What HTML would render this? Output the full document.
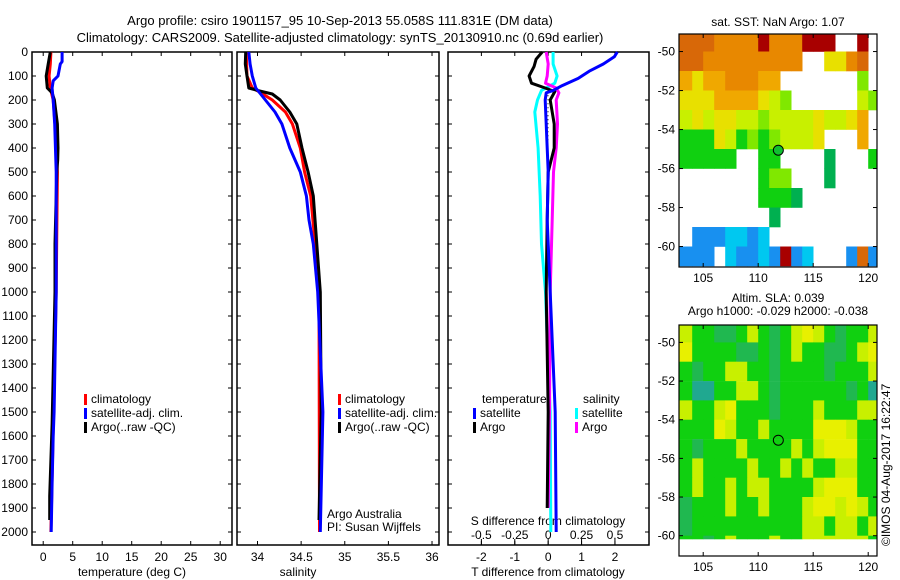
<!DOCTYPE html>
<html><head><meta charset="utf-8"><style>
html,body{margin:0;padding:0;background:#fff;}
svg{display:block;font-family:"Liberation Sans",sans-serif;}
text{font-size:12px;fill:#000;}
</style></head><body>
<svg id="chart" width="900" height="580" viewBox="0 0 900 580" xmlns="http://www.w3.org/2000/svg">
<text x="340" y="25" text-anchor="middle" style="font-size:13px">Argo profile: csiro 1901157_95 10-Sep-2013 55.058S 111.831E (DM data)</text>
<text x="340" y="42" text-anchor="middle" style="font-size:13px">Climatology: CARS2009. Satellite-adjusted climatology: synTS_20130910.nc (0.69d earlier)</text>
<g id="g"></g>
</svg>
<script>
// ---------- data ----------
const depthTicks=[0,100,200,300,400,500,600,700,800,900,1000,1100,1200,1300,1400,1500,1600,1700,1800,1900,2000];
const tempTicks=[0,5,10,15,20,25,30];
const salTicks=[34,34.5,35,35.5,36];
const tdiffTicks=[-2,-1,0,1,2];
const sdiffTicks=[-0.5,-0.25,0,0.25,0.5];
const sdiffLabels=["-0.5","-0.25","0","0.25","0.5"];
const tClimDepth=[0,50,100,150,200,300,500,1000,2000];
const tClimVal=[1.3,1.2,1.0,1.2,1.7,2.0,2.4,2.2,1.3];
const tSatDepth=[0,40,50,100,120,150,200,300,500,1000,1500,1600,1800,2000];
const tSatVal=[3.2,3.2,2.9,2.5,1.7,1.5,1.7,1.95,2.2,2.2,1.85,1.7,1.5,1.35];
const tArgoDepth=[0,50,100,150,170,200,300,400,450,500,800,1000,1550,1850,1950];
const tArgoVal=[1.2,0.85,0.5,0.7,1.5,1.9,2.4,2.5,2.45,2.3,2.0,2.0,1.5,1.1,1.1];
const sClimDepth=[0,100,150,170,200,250,300,400,500,600,800,1000,2000];
const sClimVal=[33.87,33.88,33.94,34.04,34.17,34.32,34.40,34.49,34.54,34.61,34.66,34.705,34.71];
const sSatDepth=[0,50,100,150,200,250,300,400,500,600,700,800,1000,1500,2000];
const sSatVal=[33.9,33.915,33.94,33.98,34.09,34.2,34.28,34.37,34.49,34.56,34.59,34.64,34.69,34.75,34.72];
const sArgoDepth=[0,50,100,150,160,175,200,250,300,400,500,600,800,1000,1500,1950];
const sArgoVal=[33.865,33.86,33.88,33.9,34.0,34.17,34.26,34.37,34.45,34.51,34.58,34.64,34.68,34.72,34.73,34.705];
const dtSatDepth=[0,20,50,80,110,140,160,170,200,300,400,500,700,900,1100,1500,2000];
const dtSatVal=[2.07,1.98,1.65,1.23,0.9,0.42,0.15,-0.06,-0.09,-0.06,-0.03,0,-0.03,0.03,0.09,0.21,0.24];
const dtArgoDepth=[0,30,60,100,130,150,165,200,300,400,450,500,700,900,1000,1500,1900];
const dtArgoVal=[-0.18,-0.36,-0.42,-0.57,-0.5,-0.09,0.2,0.06,0.18,0.18,0.09,0,-0.03,-0.05,-0.06,0,-0.03];
const dsSatDepth=[0,50,100,130,160,200,250,400,600,800,1000,1200,1500,2000];
const dsSatVal=[0.037,0.037,0.067,0.05,-0.05,-0.08,-0.1,-0.075,-0.06,-0.05,-0.02,-0.007,0.015,0.02];
const dsArgoDepth=[0,50,100,130,150,170,200,300,400,500,700,1000,1500,1900];
const dsArgoVal=[-0.015,0,-0.007,-0.02,0.06,0.08,0.06,0.07,0.06,0.04,0.03,0.015,0.01,0];
const lonTicks=[105,110,115,120];
const latTicks=[-50,-52,-54,-56,-58,-60];
const sstRows=[
"OOOooooRoooRRR..R.",
"OOooooooooo..YYoO.",
"aYaaoooaa.......g.",
"YYYaaaaYyg......yg",
"yYyYYyygyyyyYyyYa.",
"GGGYyGgGgyyyY...a.",
"GGGGG..GG....D...G",
".......Ggg...D....",
".......GGGD.......",
"........D.........",
".bbbccbc..........",
"bbb.cbbcbRbc...bOb"];
const slaRows=[
"yGGDDGyGDGyYyGDGGy",
"YGGGGDDGDGyGGDDGyY",
"GDGGyyGGDGGGGDGGGy",
"GTTGGyyGDGGGGGGDGT",
"yGGyYGGGDGGGyGGGyy",
"GGGYyGGyGGGGYYYyGG",
"GDGGGyGGGGyGyYYYGG",
"GyGGGGyGGyGyGGyyGG",
"GyGGyGyyGGGGyYYYGG",
"DGGGyGGyGGGyYYyYyG",
"DGGGGGGGGGGyyGyyGy",
"GGDGyGGGyGGyyyyyyG"];
const argoLon=111.83, argoLat=-55.06;
const sstTitle="sat. SST: NaN Argo: 1.07";
// ---------- drawing ----------
const NS="http://www.w3.org/2000/svg";
const G=document.getElementById('g');
function el(tag,attrs,parent){const e=document.createElementNS(NS,tag);for(const k in attrs)e.setAttribute(k,attrs[k]);(parent||G).appendChild(e);return e;}
function txt(s,x,y,anchor,parent,extra){const t=el('text',Object.assign({x:x,y:y,'text-anchor':anchor||'start'},extra||{}),parent);t.textContent=s;return t;}
const pTop=52, pxPer100=24;
const yD=d=>pTop+d*pxPer100/100;
const bottom=545;
const panels=[
 {l:32,r:232,x0:-1.9,x1:32},
 {l:237,r:439,x0:33.765,x1:36.08},
 {l:448,r:649,x0:-3.0,x1:3.02}];
function sx(p,v){return p.l+(v-p.x0)/(p.x1-p.x0)*(p.r-p.l);}
panels.forEach((p,i)=>{
  const f=el('rect',{x:p.l,y:pTop,width:p.r-p.l,height:bottom-pTop,fill:'none',stroke:'#000','stroke-width':1.5});
  
  
  depthTicks.forEach(d=>{
    el('line',{x1:p.l,x2:p.l+4,y1:yD(d),y2:yD(d),stroke:'#000'});
    el('line',{x1:p.r-4,x2:p.r,y1:yD(d),y2:yD(d),stroke:'#000'});
  });
});
depthTicks.forEach(d=>{const t=txt(String(d),28,yD(d)+4,'end');
  
  });
function xTicks(p,ticks,labels,y){ticks.forEach((v,i)=>{const x=sx(p,v);
  el('line',{x1:x,x2:x,y1:bottom,y2:bottom-4,stroke:'#000'});
  el('line',{x1:x,x2:x,y1:pTop,y2:pTop+4,stroke:'#000'});
  const t=txt(labels?labels[i]:String(v),x,y,'middle');
  
  });}
xTicks(panels[0],tempTicks,null,561);
xTicks(panels[1],salTicks,null,561);
xTicks(panels[2],tdiffTicks,null,561);
const pS={l:panels[2].l,r:panels[2].r,x0:panels[2].x0/4,x1:panels[2].x1/4};
sdiffTicks.forEach((v,i)=>{const x=sx(pS,v);
  el('line',{x1:x,x2:x,y1:539,y2:545,stroke:'#000'});
  const t=txt(sdiffLabels[i],x,539,'middle');
  
  });
[['temperature (deg C)',132,'x-axis-title-temperature'],['salinity',298,'x-axis-title-salinity'],['T difference from climatology',548,'x-axis-title-tdiff']].forEach(a=>{
  const t=txt(a[0],a[1],576,'middle');});
{const t=txt('S difference from climatology',548,525,'middle');}
function line(p,ds,vs,color,name,w){
  const pts=ds.map((d,i)=>sx(p,vs[i]).toFixed(1)+','+yD(d).toFixed(1)).join(' ');
  const e=el('polyline',{points:pts,fill:'none',stroke:color,'stroke-width':w||3,'stroke-linejoin':'round'});
  
  
}
line(panels[0],tClimDepth,tClimVal,'#f00','temp-climatology-line');
line(panels[0],tArgoDepth,tArgoVal,'#000','temp-argo-line');
line(panels[0],tSatDepth,tSatVal,'#00f','temp-satellite-line');
line(panels[1],sClimDepth,sClimVal,'#f00','salinity-climatology-line');
line(panels[1],sArgoDepth,sArgoVal,'#000','salinity-argo-line');
line(panels[1],sSatDepth,sSatVal,'#00f','salinity-satellite-line');
el('line',{x1:548,x2:548,y1:yD(180),y2:yD(700),stroke:'#000','stroke-dasharray':'1,3'});
line(pS,dsSatDepth,dsSatVal,'#0ff','sdiff-satellite-line');
line(pS,dsArgoDepth,dsArgoVal,'#f0f','sdiff-argo-line');
line(panels[2],dtArgoDepth,dtArgoVal,'#000','tdiff-argo-line');
line(panels[2],dtSatDepth,dtSatVal,'#00f','tdiff-satellite-line');
function leg(x,y,color,label,name){
  el('rect',{x:x,y:y-9,width:3,height:11,fill:color});
  const t=txt(label,x+7,y);}
[[84,'climatology','#f00'],[84,'satellite-adj. clim.','#00f'],[84,'Argo(..raw -QC)','#000']].forEach((a,i)=>{
  leg(a[0],403+i*14,a[2],a[1],'temp-legend-entry');leg(338,403+i*14,a[2],a[1],'salinity-legend-entry');});
{const t=txt('temperature',482,403);
 const u=txt('salinity',583,403);}
leg(473,417,'#00f','satellite','legend-t-satellite');leg(473,431,'#000','Argo','legend-t-argo');
leg(575,417,'#0ff','satellite','legend-s-satellite');leg(575,431,'#f0f','Argo','legend-s-argo');
{const t=txt('Argo Australia',327,518);
 const u=txt('PI: Susan Wijffels',327,531);}
const sstColors={R:'#a80000',O:'#d86808',o:'#e88800',a:'#f0a800',Y:'#e8e000',y:'#c8f000',g:'#80e800',G:'#10d010',D:'#00b050',b:'#1890f0',c:'#00c8f0'};
const slaColors={y:'#c8f000',Y:'#e8f000',G:'#10d010',D:'#20b850',T:'#20a890'};
function drawMap(mt,mb,rows,colors,name,dataBottom){
  const ml=679,mr=877,lon0=102.8,lon1=120.8,lat0=-49.1,lat1=-61.05;
  const mx=v=>ml+(v-lon0)/(lon1-lon0)*(mr-ml);
  const my=v=>mt+(v-lat0)/(lat1-lat0)*(mb-mt);
  const db=dataBottom||mb;
  const g=el('g',{});
  
  
  rows.forEach((row,r)=>{for(let c=0;c<row.length;c++){const ch=row[c];if(!colors[ch])continue;
    const la=-49-r, lo=103+c;
    const y1=r===0?mt:my(la), y2=Math.min(my(la-1),db);
    if(y2<=y1)continue;
    const xa=c===0?ml:mx(lo);
    const x2=Math.min(mx(lo+1),mr);
    const cell=el('rect',{x:xa.toFixed(1),y:y1.toFixed(1),width:(x2-xa+0.3).toFixed(1),height:(y2-y1+0.3).toFixed(1),fill:colors[ch]},g);
    
    }});
  el('rect',{x:ml,y:mt,width:mr-ml,height:mb-mt,fill:'none',stroke:'#000','stroke-width':1.2});
  lonTicks.forEach(v=>{el('line',{x1:mx(v),x2:mx(v),y1:mb,y2:mb-4,stroke:'#000'});el('line',{x1:mx(v),x2:mx(v),y1:mt,y2:mt+4,stroke:'#000'});
    const t=txt(String(v),mx(v),mb+15,'middle');});
  latTicks.forEach(v=>{el('line',{x1:ml,x2:ml+4,y1:my(v),y2:my(v),stroke:'#000'});el('line',{x1:mr-4,x2:mr,y1:my(v),y2:my(v),stroke:'#000'});
    const t=txt(String(v),675,my(v)+4,'end');});
  const c=el('circle',{cx:mx(argoLon),cy:my(argoLat),r:5,fill:name==='sst-map'?'#10c030':'none',stroke:'#000','stroke-width':1});
  
  
}
drawMap(34,267,sstRows,sstColors,'sst-map');
drawMap(325,556,slaRows,slaColors,'sla-map',539);
{const t=txt(sstTitle,778,26,'middle');
 const u=txt('Altim. SLA: 0.039',778,302,'middle');
 const v=txt('Argo h1000: -0.029 h2000: -0.038',778,315,'middle');
 const w=txt('©IMOS 04-Aug-2017 16:22:47',0,0,'start',null,{transform:'translate(890,546) rotate(-90)'});}
</script>
</body></html>
